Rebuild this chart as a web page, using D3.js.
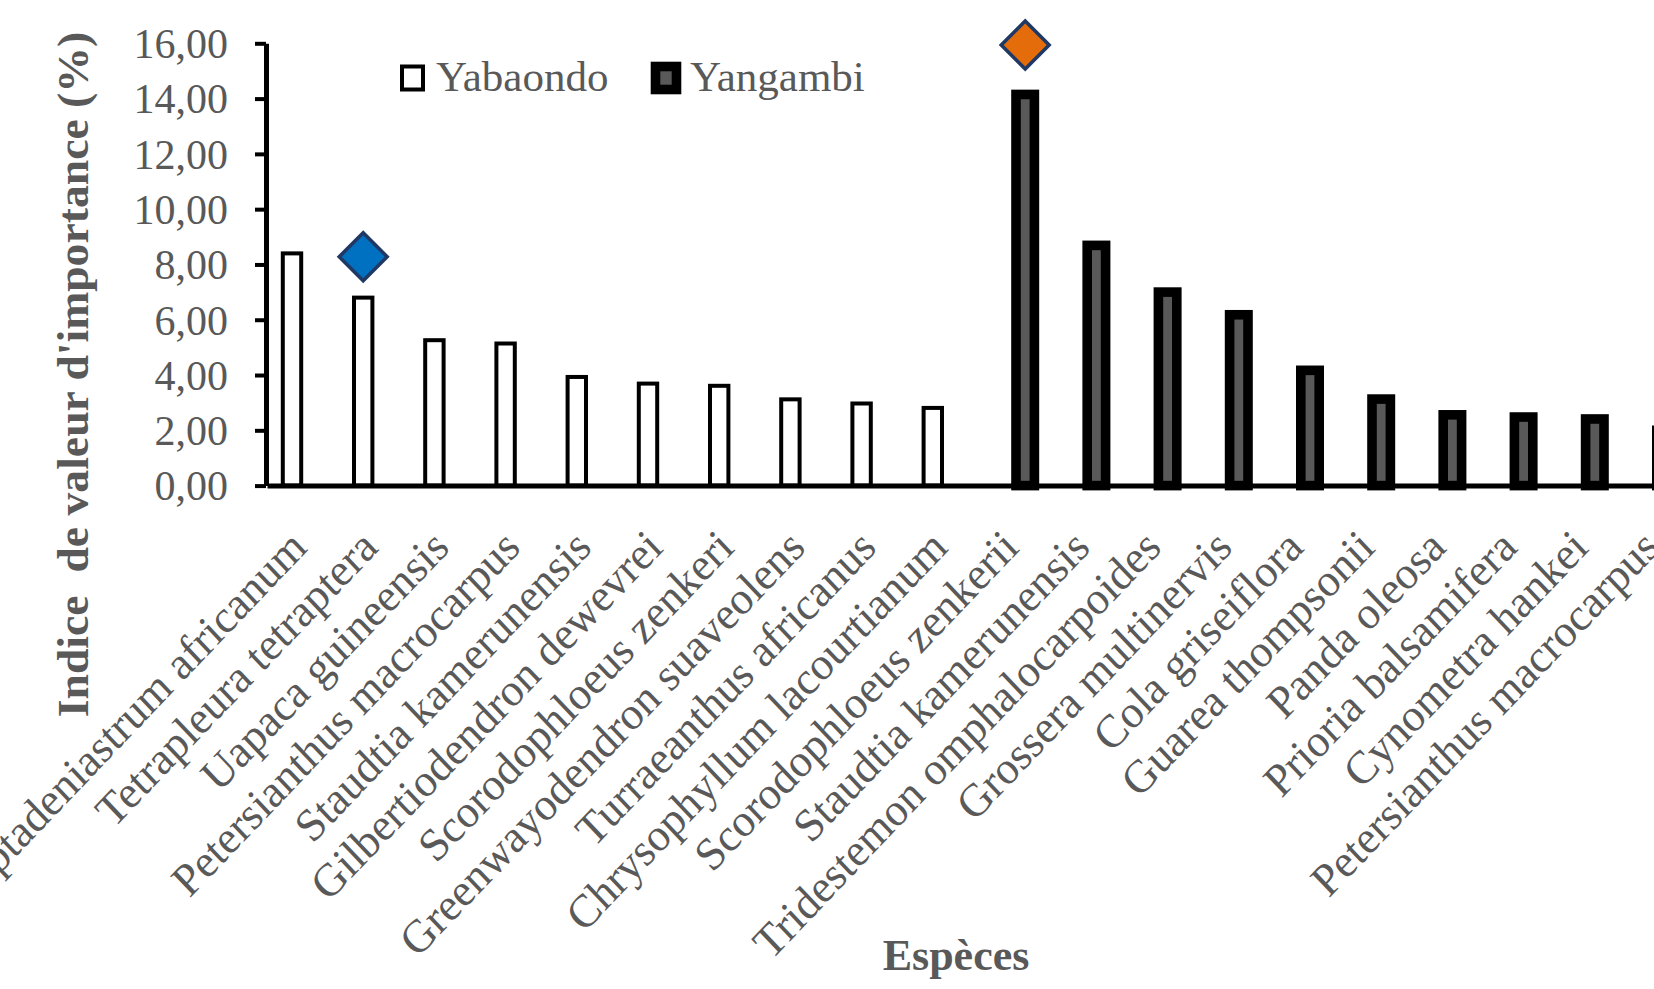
<!DOCTYPE html>
<html>
<head>
<meta charset="utf-8">
<script src="https://cdn.jsdelivr.net/npm/d3@7"></script>
<style>
  html, body { margin: 0; padding: 0; background: #ffffff; }
  svg { display: block; }
  text { font-family: "Liberation Serif", "Times New Roman", serif; }
</style>
</head>
<body>
<svg id="chart" width="1654" height="989"></svg>
<script>
// Species (x categories), first ten sampled at Yabaondo, last ten at Yangambi
const species = [
  "Piptadeniastrum africanum",
  "Tetrapleura tetraptera",
  "Uapaca guineensis",
  "Petersianthus macrocarpus",
  "Staudtia kamerunensis",
  "Gilbertiodendron dewevrei",
  "Scorodophloeus zenkeri",
  "Greenwayodendron suaveolens",
  "Turraeanthus africanus",
  "Chrysophyllum lacourtianum",
  "Scorodophloeus zenkerii",
  "Staudtia kamerunensis ",
  "Tridestemon omphalocarpoides",
  "Grossera multinervis",
  "Cola griseiflora",
  "Guarea thompsonii",
  "Panda oleosa",
  "Prioria balsamifera",
  "Cynometra hankei",
  "Petersianthus macrocarpus "
];

// Importance value index (%) per site
const yabaondo = [8.40, 6.80, 5.26, 5.14, 3.93, 3.69, 3.61, 3.12, 2.97, 2.81,
                  null, null, null, null, null, null, null, null, null, null];
const yangambi = [null, null, null, null, null, null, null, null, null, null,
                  14.15, 8.69, 7.00, 6.18, 4.17, 3.13, 2.56, 2.48, 2.41, 2.00];

const seriesNames = ["Yabaondo", "Yangambi"];

// Highlight markers (diamonds) above the dominant species of each site
const highlightSpecies = ["Tetrapleura tetraptera", "Scorodophloeus zenkerii"];
const highlightSeries = ["Yabaondo", "Yangambi"];
const highlightValues = [8.28, 15.94];

const yTicks = [0, 2, 4, 6, 8, 10, 12, 14, 16];

const yAxisTitle = "Indice  de valeur d'importance (%)";
const xAxisTitle = "Espèces";

// ---------------------------------------------------------------
const svg = d3.select("#chart");
const W = 1654, H = 989;
svg.append("rect").attr("width", W).attr("height", H).attr("fill", "#ffffff");

const textGrey = "#595959";
const frLocale = d3.formatLocale({ decimal: ",", thousands: " ", grouping: [3], currency: ["", " €"] });
const fmt = frLocale.format(".2f");

const axisX = 266;      // position of the vertical axis
const plotLeft = 267;
const step = 71.2;
const stretchY = 1.05;  // text is drawn slightly taller than wide

const x = d3.scaleBand()
  .domain(species)
  .range([plotLeft, plotLeft + step * species.length])
  .paddingInner(0).paddingOuter(0);

// Sub-band for the two sites inside each category
const slot = 21.2;
const xs = d3.scaleBand()
  .domain(seriesNames)
  .range([x.bandwidth() / 2 - slot, x.bandwidth() / 2 + slot]);
const barW = 18.4;

const y = d3.scaleLinear().domain([0, 16]).range([485.6, 43.3]);

const rows = species.map((s, i) => ({ s, Yabaondo: yabaondo[i], Yangambi: yangambi[i] }));

const styles = {
  Yabaondo: { fill: "#ffffff", stroke: "#000000", sw: 4 },
  Yangambi: { fill: "#595959", stroke: "#000000", sw: 9.6 }
};

// Bars
const barsG = svg.append("g");
seriesNames.forEach(name => {
  const st = styles[name];
  barsG.append("g").selectAll("rect")
    .data(rows.filter(r => r[name] != null))
    .join("rect")
    .attr("x", d => x(d.s) + xs(name) + (xs.bandwidth() - barW) / 2)
    .attr("width", barW)
    .attr("y", d => y(d[name]))
    .attr("height", d => y(0) - y(d[name]))
    .attr("fill", st.fill)
    .attr("stroke", st.stroke)
    .attr("stroke-width", st.sw);
});

// Diamonds
const diamondColors = ["#0070C0", "#E46C0A"];
const diamond = d3.symbol().type(d3.symbolSquare).size(1150);
svg.append("g").selectAll("path")
  .data(highlightSpecies.map((s, i) => ({ s, series: highlightSeries[i], v: highlightValues[i], c: diamondColors[i] })))
  .join("path")
  .attr("d", diamond)
  .attr("transform", d => `translate(${x(d.s) + xs(d.series) + xs.bandwidth() / 2},${y(d.v)}) rotate(45)`)
  .attr("fill", d => d.c)
  .attr("stroke", "#1F3864")
  .attr("stroke-width", 3.5);

// Y axis
const yAxis = d3.axisLeft(y)
  .tickValues(yTicks)
  .tickFormat(fmt)
  .tickSize(11)
  .tickSizeOuter(0)
  .tickPadding(27);
const yG = svg.append("g").attr("transform", `translate(${axisX},0)`).call(yAxis);
yG.select(".domain").attr("stroke", "#000").attr("stroke-width", 5);
yG.selectAll(".tick line").attr("stroke", "#000").attr("stroke-width", 4);
yG.selectAll(".tick text")
  .attr("fill", textGrey)
  .attr("font-size", 42)
  .attr("font-family", "Liberation Serif, Times New Roman, serif")
  .attr("dy", "0.34em");

// X axis
const xAxis = d3.axisBottom(x).tickSize(0).tickSizeOuter(0).tickFormat(d => d.trim());
const xG = svg.append("g").attr("transform", `translate(0,${y(0)})`).call(xAxis);
xG.select(".domain").attr("stroke", "#000").attr("stroke-width", 5);
xG.selectAll(".tick text")
  .attr("x", 0).attr("y", 0).attr("dy", null)
  .attr("transform", `translate(6,64) scale(1,${stretchY}) rotate(-45)`)
  .attr("text-anchor", "end")
  .attr("fill", textGrey)
  .attr("font-size", 44)
  .attr("font-family", "Liberation Serif, Times New Roman, serif");

// Axis titles
svg.append("text")
  .attr("transform", `translate(88,374.5) scale(1,${stretchY}) rotate(-90)`)
  .attr("text-anchor", "middle")
  .attr("font-weight", "bold")
  .attr("font-size", 43.5)
  .attr("fill", textGrey)
  .style("white-space", "pre")
  .text(yAxisTitle);

svg.append("text")
  .attr("x", 956).attr("y", 970)
  .attr("text-anchor", "middle")
  .attr("font-weight", "bold")
  .attr("font-size", 44)
  .attr("fill", textGrey)
  .text(xAxisTitle);

// Legend
const legendItems = [
  { name: "Yabaondo", kx: 412.5, tx: 436 },
  { name: "Yangambi", kx: 666, tx: 690 }
];
const lg = svg.append("g");
legendItems.forEach(it => {
  const st = styles[it.name];
  lg.append("rect")
    .attr("x", it.kx - 10.5).attr("y", 78 - 11.5)
    .attr("width", 21).attr("height", 23)
    .attr("fill", st.fill).attr("stroke", st.stroke).attr("stroke-width", st.sw);
  lg.append("text")
    .attr("x", it.tx).attr("y", 91)
    .attr("font-size", 43)
    .attr("fill", textGrey)
    .text(it.name);
});
</script>
</body>
</html>
